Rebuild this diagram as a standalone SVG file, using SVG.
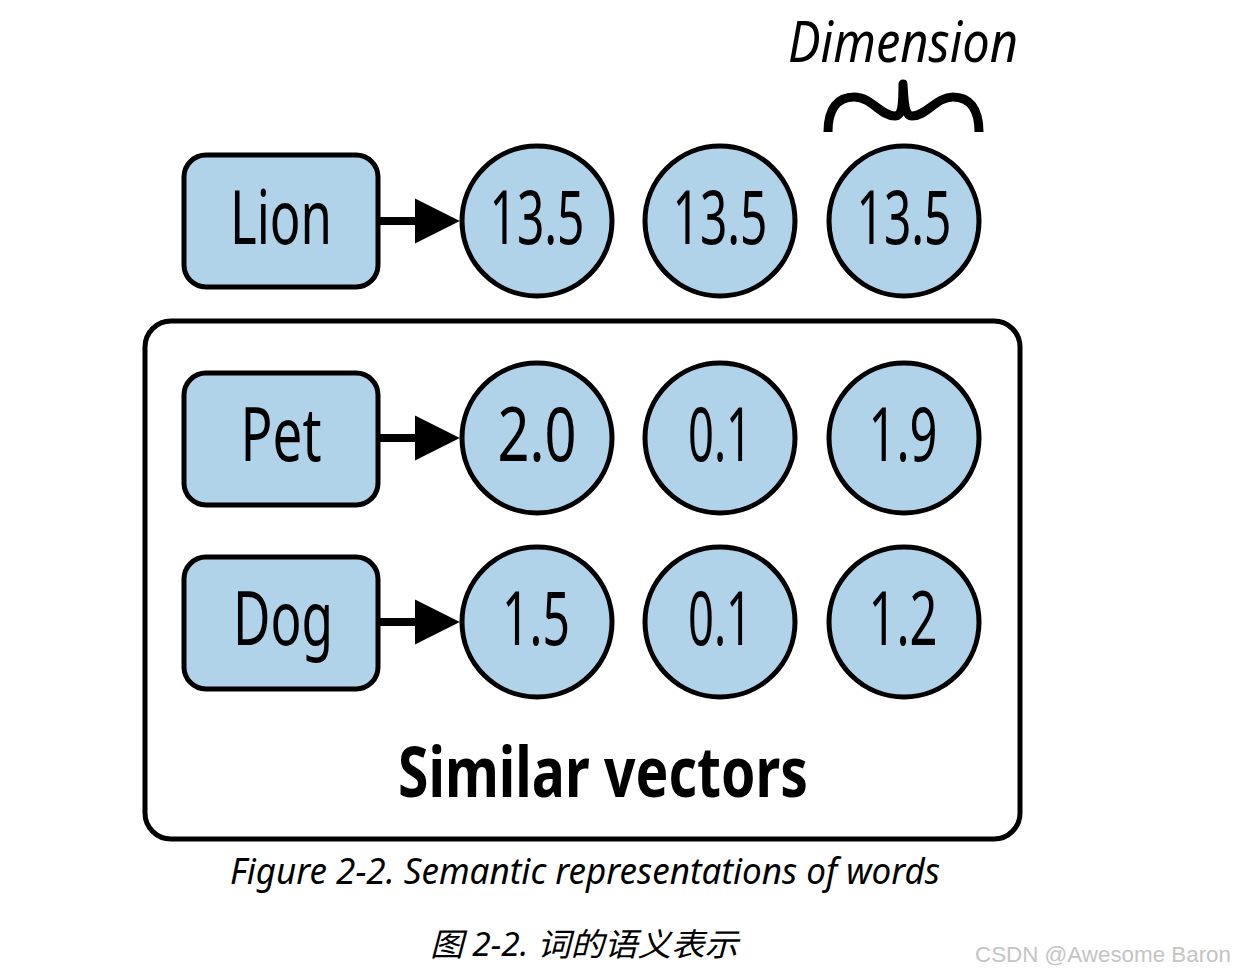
<svg xmlns="http://www.w3.org/2000/svg" width="1235" height="973" viewBox="0 0 1235 973">
<defs>
<style>
.node{fill:#b0d3ea;stroke:#000;stroke-width:5}
.lbl{font-family:"Noto Sans",sans-serif;font-size:74px;fill:#000;text-anchor:middle}
.conn{stroke:#000;stroke-width:8;fill:none}
.cap{font-family:"Noto Sans","Noto Sans CJK SC",sans-serif;font-style:italic;fill:#000}
</style>
<marker id="ah" viewBox="0 0 10 10" refX="0" refY="5" markerWidth="5.6" markerHeight="6.8" markerUnits="strokeWidth" orient="auto">
<path d="M0,0 L10,5 L0,10 Z" fill="#000"/>
</marker>
</defs>
<rect width="1235" height="973" fill="#fff"/>
<g id="similar-group">
<rect x="145" y="321" width="875" height="518" rx="26" fill="none" stroke="#000" stroke-width="5"/>
<text x="603" y="797" font-family="Noto Sans,sans-serif" font-size="70" font-weight="bold" text-anchor="middle" textLength="410" lengthAdjust="spacingAndGlyphs">Similar vectors</text>
</g>
<g id="dimension">
<text x="903" y="62" class="cap" font-size="56" text-anchor="middle" textLength="230" lengthAdjust="spacingAndGlyphs">Dimension</text>
<path d="M828,132 C828,108 838,97 854,97 C872,97 880,116 895,116 C903,116 903,100 903,84 C904,100 904,116 912,116 C927,116 936,97 953,97 C969,97 979,108 979,132" fill="none" stroke="#000" stroke-width="9" stroke-linejoin="round"/>
</g>
<g id="connectors">
<line class="conn" x1="378" y1="221" x2="415" y2="221" marker-end="url(#ah)"/>
<line class="conn" x1="378" y1="438" x2="415" y2="438" marker-end="url(#ah)"/>
<line class="conn" x1="378" y1="622" x2="415" y2="622" marker-end="url(#ah)"/>
</g>
<g id="lion">
<rect class="node" x="184" y="155" width="194" height="132" rx="22"/>
<text class="lbl" x="281" y="244" textLength="102" lengthAdjust="spacingAndGlyphs">Lion</text>
</g>
<g id="lion-d1"><circle class="node" cx="537" cy="221" r="75"/><text class="lbl" x="537" y="244" textLength="95" lengthAdjust="spacingAndGlyphs">13.5</text></g>
<g id="lion-d2"><circle class="node" cx="720" cy="221" r="75"/><text class="lbl" x="720" y="244" textLength="95" lengthAdjust="spacingAndGlyphs">13.5</text></g>
<g id="lion-d3"><circle class="node" cx="904" cy="221" r="75"/><text class="lbl" x="904" y="244" textLength="95" lengthAdjust="spacingAndGlyphs">13.5</text></g>
<g id="pet">
<rect class="node" x="184" y="373" width="194" height="132" rx="22"/>
<text class="lbl" x="281" y="461" textLength="81" lengthAdjust="spacingAndGlyphs">Pet</text>
</g>
<g id="pet-d1"><circle class="node" cx="537" cy="438" r="75"/><text class="lbl" x="537" y="461" textLength="79" lengthAdjust="spacingAndGlyphs">2.0</text></g>
<g id="pet-d2"><circle class="node" cx="720" cy="438" r="75"/><text class="lbl" x="720" y="461" textLength="64" lengthAdjust="spacingAndGlyphs">0.1</text></g>
<g id="pet-d3"><circle class="node" cx="904" cy="438" r="75"/><text class="lbl" x="903" y="461" textLength="69" lengthAdjust="spacingAndGlyphs">1.9</text></g>
<g id="dog">
<rect class="node" x="184" y="557" width="194" height="132" rx="22"/>
<text class="lbl" x="283" y="645" textLength="100" lengthAdjust="spacingAndGlyphs">Dog</text>
</g>
<g id="dog-d1"><circle class="node" cx="537" cy="622" r="75"/><text class="lbl" x="536" y="645" textLength="68" lengthAdjust="spacingAndGlyphs">1.5</text></g>
<g id="dog-d2"><circle class="node" cx="720" cy="622" r="75"/><text class="lbl" x="720" y="645" textLength="64" lengthAdjust="spacingAndGlyphs">0.1</text></g>
<g id="dog-d3"><circle class="node" cx="904" cy="622" r="75"/><text class="lbl" x="903" y="645" textLength="69" lengthAdjust="spacingAndGlyphs">1.2</text></g>
<g id="captions">
<text class="cap" x="230" y="884" font-size="36" textLength="710" lengthAdjust="spacingAndGlyphs">Figure 2-2. Semantic representations of words</text>
<text class="cap" x="430" y="956" font-size="32" textLength="308" lengthAdjust="spacingAndGlyphs">图 2-2. 词的语义表示</text>
<text x="975" y="962" font-family="Liberation Sans,sans-serif" font-size="22" fill="#c4c4c4" textLength="256" lengthAdjust="spacingAndGlyphs">CSDN @Awesome Baron</text>
</g>
</svg>
